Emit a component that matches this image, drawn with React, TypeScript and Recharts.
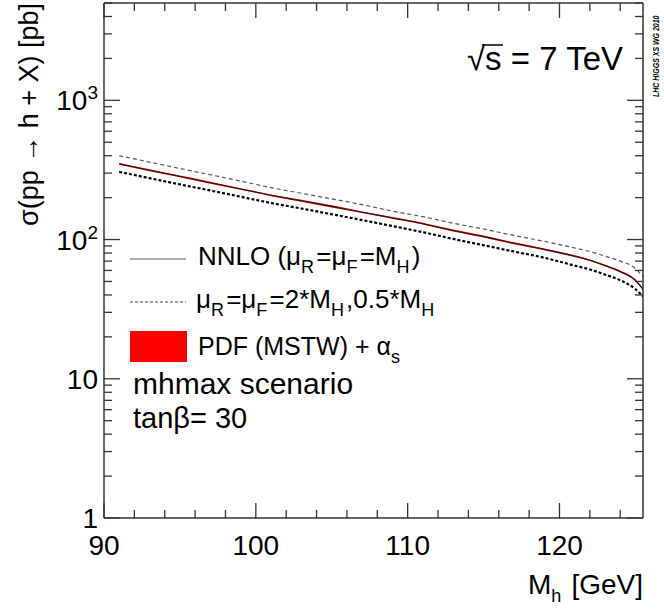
import React from "react";
import { ComposedChart, Line, Area, XAxis, YAxis } from "recharts";

// Higgs mass points [GeV]
const massPoints = [91, 93, 95, 97, 99, 101, 103, 105, 107, 109, 111, 113, 115, 117, 119, 121, 122, 123, 124, 125, 125.5];
// NNLO cross section, mu_R = mu_F = M_H [pb]
const nnloXsec = [350, 315, 284, 256, 231, 208, 190, 173, 157, 143, 130, 116, 105, 94, 85, 76, 71, 65, 59, 51, 44];
// scale variation envelope
const scaleUp = [400, 360, 324, 292, 263, 236, 215, 196, 178, 160, 146, 131, 119, 107, 97, 87, 82, 76, 70, 62, 54];
const scaleDown = [306, 276, 249, 225, 203, 183, 167, 152, 138, 125, 113, 101, 91, 82, 74, 65, 61, 56, 51, 44, 39];
// PDF (MSTW) + alpha_s band
const pdfHigh = [355, 320, 288, 260, 234, 211, 193, 176, 159, 145, 132, 118, 107, 95.5, 86.3, 77.2, 72, 66, 60, 51.8, 44.7];
const pdfLow = [345, 310, 280, 252, 228, 205, 187, 170, 155, 141, 128, 114, 103.5, 92.6, 83.7, 74.8, 70, 64, 58.1, 50.2, 43.3];

const xTicks = [90, 92, 94, 96, 98, 100, 102, 104, 106, 108, 110, 112, 114, 116, 118, 120, 122, 124];
const xMajor = [90, 100, 110, 120];
const yTicks = [
  1, 2, 3, 4, 5, 6, 7, 8, 9, 10, 20, 30, 40, 50, 60, 70, 80, 90,
  100, 200, 300, 400, 500, 600, 700, 800, 900, 1000, 2000, 3000, 4000, 5000,
];
const yMajor = [1, 10, 100, 1000];

const data = massPoints.map((m, i) => ({
  mass: m,
  nnlo: nnloXsec[i],
  up: scaleUp[i],
  down: scaleDown[i],
  pdf: [pdfLow[i], pdfHigh[i]],
}));

const FONT = "'Liberation Sans', Arial, Helvetica, sans-serif";
const AXIS = "#333";
const TXT = 28;
const SUB = 18;

const XTick = (props: any) => {
  const { x, y, payload, top } = props;
  const major = xMajor.includes(payload.value);
  const len = major ? 15 : 8;
  const dir = top ? 1 : -1;
  return (
    <g>
      <line x1={x} x2={x} y1={y} y2={y + dir * len} stroke={AXIS} strokeWidth={1.3} />
      {!top && major && (
        <text x={x} y={y + 37} textAnchor="middle" fontFamily={FONT} fontSize={TXT} fill="#000">
          {payload.value}
        </text>
      )}
    </g>
  );
};

const YTick = (props: any) => {
  const { x, y, payload, right } = props;
  const v = payload.value;
  const major = yMajor.includes(v);
  const len = major ? 16 : 8;
  const dir = right ? -1 : 1;
  let label: React.ReactNode = null;
  if (!right && major) {
    const exp = Math.round(Math.log10(v));
    label =
      exp < 2 ? (
        <text x={x - 6} y={y + 10} textAnchor="end" fontFamily={FONT} fontSize={TXT} fill="#000">
          {v}
        </text>
      ) : (
        <text x={x - 6} y={y + 10} textAnchor="end" fontFamily={FONT} fontSize={TXT} fill="#000">
          10
          <tspan dy={-11} fontSize={19}>
            {exp}
          </tspan>
        </text>
      );
  }
  return (
    <g>
      <line x1={x} x2={x + dir * len} y1={y} y2={y} stroke={AXIS} strokeWidth={1.3} />
      {label}
    </g>
  );
};

const Sub = ({ t }: { t: string }) => (
  <>
    <tspan fontSize={SUB} dy={8}>
      {t}
    </tspan>
    <tspan dy={-8}>{"\u200a"}</tspan>
  </>
);

const Overlay = () => (
  <svg
    width={664}
    height={615}
    style={{ position: "absolute", left: 0, top: 0, pointerEvents: "none" }}
    fontFamily={FONT}
  >
    <text x={38} y={3} transform="rotate(-90 38 3)" textAnchor="end" fontSize={27} fill="#000">
      σ(pp → h + X) [pb]
    </text>
    <text x={643} y={594} textAnchor="end" fontSize={TXT} fill="#000">
      M<Sub t="h" />
      {"  "}[GeV]
    </text>
    <text x={467} y={70} fontSize={33} fill="#000">
      √s = 7 TeV
    </text>
    <line x1={482} x2={503} y1={45} y2={45} stroke="#000" strokeWidth={1.5} />
    {/* working-group stamp, condensed and set vertically */}
    <text
      transform="translate(659 97) rotate(-90) scale(1 1.35)"
      x={0}
      y={0}
      fontSize={7}
      fontStyle="italic"
      fontWeight="bold"
      fill="#000"
    >
      LHC HIGGS XS WG 2010
    </text>

    <line x1={130} x2={186} y1={259} y2={259} stroke="#555" strokeWidth={1} />
    <text x={198} y={265} fontSize={26} fill="#000">
      NNLO (μ<Sub t="R" />=μ<Sub t="F" />=M<Sub t="H" />)
    </text>

    <line x1={130} x2={186} y1={302} y2={302} stroke="#444" strokeWidth={1} strokeDasharray="3 2" />
    <text x={196} y={308} fontSize={26} fill="#000">
      μ<Sub t="R" />=μ<Sub t="F" />=2*M<Sub t="H" />,0.5*M<Sub t="H" />
    </text>

    <rect x={130} y={331} width={57} height={31} fill="#ff0000" />
    <text x={198} y={355} fontSize={25} fill="#000">
      PDF (MSTW) + α<Sub t="s" />
    </text>

    <text x={133} y={394} fontSize={30} fill="#000">
      mhmax scenario
    </text>
    <text x={133} y={428} fontSize={29} fill="#000">
      tanβ= 30
    </text>
  </svg>
);

export default function App() {
  return (
    <div
      style={{
        position: "absolute",
        left: 0,
        top: 0,
        width: 664,
        height: 615,
        background: "#fff",
        fontFamily: FONT,
      }}
    >
      <ComposedChart width={664} height={615} data={data} margin={{ top: 0, right: 0, bottom: 0, left: 0 }}>
        <XAxis
          dataKey="mass"
          type="number"
          domain={[90, 125.5]}
          allowDataOverflow
          ticks={xTicks}
          interval={0}
          height={97}
          tickSize={0}
          tickMargin={0}
          tickLine={false}
          axisLine={{ stroke: AXIS, strokeWidth: 1.5 }}
          tick={(p: any) => <XTick {...p} />}
        />
        <XAxis
          xAxisId="top"
          orientation="top"
          dataKey="mass"
          type="number"
          domain={[90, 125.5]}
          allowDataOverflow
          ticks={xTicks}
          interval={0}
          height={3}
          tickSize={0}
          tickMargin={0}
          tickLine={false}
          axisLine={{ stroke: AXIS, strokeWidth: 1.5 }}
          tick={(p: any) => <XTick {...p} top />}
        />
        <YAxis
          type="number"
          scale="log"
          domain={[1, 5000]}
          allowDataOverflow
          ticks={yTicks}
          interval={0}
          width={104}
          tickSize={0}
          tickMargin={0}
          tickLine={false}
          axisLine={{ stroke: AXIS, strokeWidth: 1.5 }}
          tick={(p: any) => <YTick {...p} />}
        />
        <YAxis
          yAxisId="right"
          orientation="right"
          type="number"
          scale="log"
          domain={[1, 5000]}
          allowDataOverflow
          ticks={yTicks}
          interval={0}
          width={21}
          tickSize={0}
          tickMargin={0}
          tickLine={false}
          axisLine={{ stroke: AXIS, strokeWidth: 1.5 }}
          tick={(p: any) => <YTick {...p} right />}
        />
        <Area
          dataKey="pdf"
          type="monotone"
          stroke="none"
          fill="#ff0000"
          fillOpacity={1}
          isAnimationActive={false}
        />
        <Line
          dataKey="up"
          type="monotone"
          stroke="#555"
          strokeWidth={1.2}
          strokeDasharray="4 3"
          dot={false}
          isAnimationActive={false}
        />
        <Line
          dataKey="down"
          type="monotone"
          stroke="#000"
          strokeWidth={2.2}
          strokeDasharray="3 2"
          dot={false}
          isAnimationActive={false}
        />
        <Line
          dataKey="nnlo"
          type="monotone"
          stroke="#1a1a1a"
          strokeWidth={1.1}
          dot={false}
          isAnimationActive={false}
        />
      </ComposedChart>
      <Overlay />
    </div>
  );
}
